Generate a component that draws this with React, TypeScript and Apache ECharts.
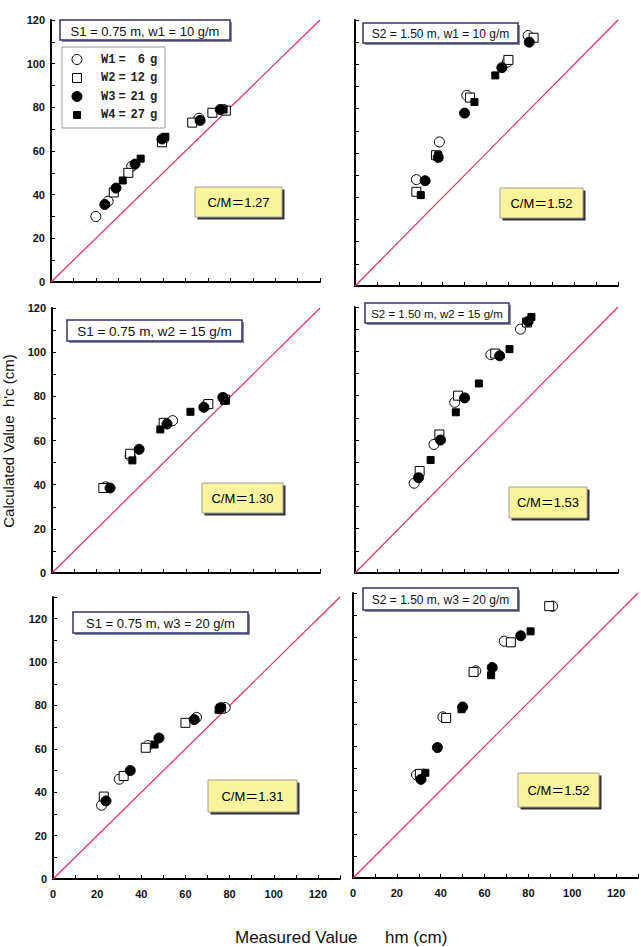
import React, { useEffect, useRef } from "react";
import * as echarts from "echarts";

// ---------- data (measured hm, calculated h'c) ----------
// Panel 1: S1 = 0.75 m, w1 = 10 g/m
const P1_W1 = [[20, 30], [25.5, 37], [36, 53], [50, 65], [66, 75], [77, 79]];
const P1_W2 = [[28, 41], [34.5, 50], [49.5, 64], [63, 73], [72, 77.5], [78, 78.5]];
const P1_W3 = [[24, 35.5], [29, 43], [37.5, 54], [49.5, 65.5], [66.5, 74], [75.5, 79]];
const P1_W4 = [[32, 46.5], [40, 56.5], [51, 66.5], [77, 79]];
// Panel 2: S2 = 1.50 m, w1 = 10 g/m
const P2_W1 = [[28, 48], [38.5, 65], [51, 86], [69.5, 101], [79, 113]];
const P2_W2 = [[28, 42.5], [37, 59], [52.5, 85], [70, 102], [81.5, 112]];
const P2_W3 = [[32, 47.5], [38, 58], [50, 78], [67, 98.5], [79.5, 110]];
const P2_W4 = [[30, 41], [38, 59], [54.5, 83], [64, 95]];
// Panel 3: S1 = 0.75 m, w2 = 15 g/m
const P3_W1 = [[24, 39], [35, 53], [54, 69], [69, 76], [77, 79]];
const P3_W2 = [[23, 38.5], [35, 54], [50, 68], [70, 76.5], [77.5, 78.5]];
const P3_W3 = [[26, 38.5], [39, 56], [51.5, 67.5], [68, 75], [76.5, 79.5]];
const P3_W4 = [[36, 51], [48.5, 65], [62, 73], [77.5, 78]];
// Panel 4: S2 = 1.50 m, w2 = 15 g/m
const P4_W1 = [[27, 40.5], [36, 58], [45.5, 77], [62, 98.5], [75.5, 110]];
const P4_W2 = [[29.5, 46], [38.5, 62.5], [47, 80], [64, 99], [78.5, 113]];
const P4_W3 = [[29, 43], [39, 60], [50, 79], [66, 98], [79, 113.5]];
const P4_W4 = [[34.5, 51], [46, 72.5], [56.5, 85.5], [70.5, 101], [80.5, 115.5]];
// Panel 5: S1 = 0.75 m, w3 = 20 g/m
const P5_W1 = [[22, 34], [30, 46], [43, 61.5], [65, 74.5], [78, 79]];
const P5_W2 = [[23, 38], [32, 47.5], [42, 60.5], [60, 72], [76, 78.5]];
const P5_W3 = [[24, 36], [35, 50], [48, 65], [64, 73.5], [76, 79]];
const P5_W4 = [[46, 62], [75, 78]];
// Panel 6: S2 = 1.50 m, w3 = 20 g/m
const P6_W1 = [[29, 47], [41, 73.5], [56, 94.5], [69, 108], [91, 124]];
const P6_W2 = [[30.5, 47.5], [42.5, 73], [55, 94], [72, 107.5], [89.5, 124]];
const P6_W3 = [[31, 45], [38.5, 59.5], [50, 78], [63.5, 96], [76.5, 110.5]];
const P6_W4 = [[33, 48], [49.5, 77], [63, 92.5], [81, 112.5]];

const SERIES_NAMES = ["W1 = 6 g", "W2 = 12 g", "W3 = 21 g", "W4 = 27 g"];
const LEGEND_LABELS = [["W1", "6"], ["W2", "12"], ["W3", "21"], ["W4", "27"]];
const PANEL_TITLES = [
  "S1 = 0.75 m, w1 = 10 g/m",
  "S2 = 1.50 m, w1 = 10 g/m",
  "S1 = 0.75 m, w2 = 15 g/m",
  "S2 = 1.50 m, w2 = 15 g/m",
  "S1 = 0.75 m, w3 = 20 g/m",
  "S2 = 1.50 m, w3 = 20 g/m",
];
const RATIOS = ["1.27", "1.52", "1.30", "1.53", "1.31", "1.52"];
const AXIS_MAX = [120, 120, 120, 120, 130, 130];

const PANEL_DATA = [
  [P1_W1, P1_W2, P1_W3, P1_W4],
  [P2_W1, P2_W2, P2_W3, P2_W4],
  [P3_W1, P3_W2, P3_W3, P3_W4],
  [P4_W1, P4_W2, P4_W3, P4_W4],
  [P5_W1, P5_W2, P5_W3, P5_W4],
  [P6_W1, P6_W2, P6_W3, P6_W4],
];

// ---------- layout ----------
const GRIDS = [
  { left: 51, top: 20, width: 269, height: 262 },
  { left: 355, top: 20, width: 263, height: 266 },
  { left: 52, top: 308, width: 268, height: 265 },
  { left: 355, top: 307, width: 263, height: 266 },
  { left: 53, top: 597, width: 287, height: 282 },
  { left: 353, top: 593, width: 285, height: 285 },
];
const TITLE_BOX = [
  { x: 60, y: 20, w: 170, h: 20, fs: 13 },
  { x: 363, y: 23, w: 155, h: 20, fs: 12 },
  { x: 67, y: 320, w: 175, h: 21, fs: 13.5 },
  { x: 365, y: 303, w: 144, h: 20, fs: 11.5 },
  { x: 73, y: 612, w: 175, h: 21, fs: 13 },
  { x: 363, y: 588, w: 155, h: 22, fs: 12 },
];
const CM_BOX = [
  { x: 195, y: 187, w: 87, h: 30 },
  { x: 500, y: 188, w: 83, h: 30 },
  { x: 202, y: 483, w: 81, h: 30 },
  { x: 509, y: 487, w: 78, h: 31 },
  { x: 208, y: 780, w: 89, h: 32 },
  { x: 518, y: 773, w: 81, h: 34 },
];

const MARKERS = [
  { symbol: "circle", size: 10, fill: "#ffffff" },
  { symbol: "rect", size: 9, fill: "#ffffff" },
  { symbol: "circle", size: 10, fill: "#000000" },
  { symbol: "rect", size: 7, fill: "#000000" },
];

const SANS = "'Liberation Sans', Arial, 'Noto Sans CJK JP', sans-serif";
const DIAG_COLOR = "#e0305f";

function buildOption() {
  const grid: any[] = [];
  const xAxis: any[] = [];
  const yAxis: any[] = [];
  const series: any[] = [];
  const graphic: any[] = [];

  GRIDS.forEach((g, i) => {
    const max = AXIS_MAX[i];
    const leftCol = i % 2 === 0;
    const bottomRow = i >= 4;
    grid.push({ ...g, containLabel: false });
    const common = {
      type: "value",
      min: 0,
      max,
      interval: 10,
      gridIndex: i,
      splitLine: { show: false },
      axisLine: { show: true, onZero: false, lineStyle: { color: "#000", width: 2 } },
      axisTick: { show: true, inside: true, length: 4, lineStyle: { color: "#000", width: 1 } },
    };
    xAxis.push({
      ...common,
      axisLabel: {
        show: bottomRow,
        margin: 9,
        color: "#111",
        fontSize: 11,
        fontWeight: "bold",
        fontFamily: SANS,
        formatter: (v: number) => (v % 20 === 0 && v <= 120 ? String(v) : ""),
      },
    });
    yAxis.push({
      ...common,
      axisLabel: {
        show: leftCol,
        margin: 6,
        color: "#111",
        fontSize: 11,
        fontWeight: "bold",
        fontFamily: SANS,
        formatter: (v: number) => (v % 20 === 0 && v <= 120 ? String(v) : ""),
      },
    });
    series.push({
      type: "line",
      name: "1:1",
      xAxisIndex: i,
      yAxisIndex: i,
      data: [[0, 0], [max, max]],
      symbol: "none",
      silent: true,
      z: 1,
      lineStyle: { color: DIAG_COLOR, width: 1.2 },
    });
    PANEL_DATA[i].forEach((d, k) => {
      const m = MARKERS[k];
      series.push({
        type: "scatter",
        name: SERIES_NAMES[k],
        xAxisIndex: i,
        yAxisIndex: i,
        data: d,
        symbol: m.symbol,
        symbolSize: m.size,
        z: 2 + k,
        itemStyle: { color: m.fill, borderColor: "#000", borderWidth: 1, opacity: 1 },
      });
    });

    // title box
    const t = TITLE_BOX[i];
    graphic.push({ type: "rect", shape: { x: t.x + 2, y: t.y + 2, width: t.w, height: t.h }, style: { fill: "#8a8a9a" }, z: 100 });
    graphic.push({ type: "rect", shape: { x: t.x, y: t.y, width: t.w, height: t.h }, style: { fill: "#fff", stroke: "#33336b", lineWidth: 1.5 }, z: 101 });
    graphic.push({
      type: "text",
      x: t.x + t.w / 2,
      y: t.y + t.h / 2 + 1,
      z: 102,
      style: { text: PANEL_TITLES[i], fill: "#111", fontSize: t.fs, fontFamily: SANS, align: "center", verticalAlign: "middle", textAlign: "center", textVerticalAlign: "middle" },
    });
    // C/M box
    const c = CM_BOX[i];
    graphic.push({ type: "rect", shape: { x: c.x + 2.5, y: c.y + 2.5, width: c.w, height: c.h }, style: { fill: "#333" }, z: 100 });
    graphic.push({ type: "rect", shape: { x: c.x, y: c.y, width: c.w, height: c.h }, style: { fill: "#faf59c", stroke: "#a0a0a0", lineWidth: 1 }, z: 101 });
    graphic.push({
      type: "text",
      x: c.x + c.w / 2,
      y: c.y + c.h / 2,
      z: 102,
      style: { text: "C/M＝" + RATIOS[i], fill: "#000", fontSize: 13, fontFamily: SANS, align: "center", verticalAlign: "middle", textAlign: "center", textVerticalAlign: "middle" },
    });
  });

  // legend box (panel 1)
  graphic.push({ type: "rect", shape: { x: 62, y: 47, width: 103, height: 81 }, style: { fill: "#fff", stroke: "#999", lineWidth: 1 }, z: 100 });
  const rows = [59.5, 78, 96.5, 115];
  rows.forEach((ry, k) => {
    const m = MARKERS[k];
    if (m.symbol === "circle") {
      graphic.push({ type: "circle", shape: { cx: 77, cy: ry, r: m.size / 2 }, style: { fill: m.fill, stroke: "#000", lineWidth: 1 }, z: 101 });
    } else {
      graphic.push({ type: "rect", shape: { x: 77 - m.size / 2, y: ry - m.size / 2, width: m.size, height: m.size }, style: { fill: m.fill, stroke: "#000", lineWidth: 1 }, z: 101 });
    }
    const lf = { fill: "#222", fontSize: 12, fontWeight: "bold", fontFamily: "'Liberation Mono', 'DejaVu Sans Mono', monospace", verticalAlign: "middle", textVerticalAlign: "middle" };
    graphic.push({ type: "text", x: 101, y: ry, z: 101, style: { ...lf, text: LEGEND_LABELS[k][0], align: "left", textAlign: "left" } });
    graphic.push({ type: "text", x: 122, y: ry, z: 101, style: { ...lf, text: "=", align: "center", textAlign: "center" } });
    graphic.push({ type: "text", x: 145, y: ry, z: 101, style: { ...lf, text: LEGEND_LABELS[k][1], align: "right", textAlign: "right" } });
    graphic.push({ type: "text", x: 150, y: ry, z: 101, style: { ...lf, text: "g", align: "left", textAlign: "left" } });
  });

  // axis titles
  graphic.push({
    type: "text",
    x: 8,
    y: 441,
    rotation: Math.PI / 2,
    z: 101,
    style: { text: "Calculated Value  h'c (cm)", fill: "#111", fontSize: 15, fontFamily: SANS, align: "center", verticalAlign: "middle", textAlign: "center", textVerticalAlign: "middle" },
  });
  graphic.push({
    type: "text",
    x: 235,
    y: 937,
    z: 101,
    style: { text: "Measured Value", fill: "#111", fontSize: 17, fontFamily: SANS, align: "left", verticalAlign: "middle", textAlign: "left", textVerticalAlign: "middle" },
  });
  graphic.push({
    type: "text",
    x: 385,
    y: 937,
    z: 101,
    style: { text: "hm (cm)", fill: "#111", fontSize: 17, fontFamily: SANS, align: "left", verticalAlign: "middle", textAlign: "left", textVerticalAlign: "middle" },
  });

  return {
    animation: false,
    backgroundColor: "#ffffff",
    grid,
    xAxis,
    yAxis,
    series,
    graphic: { elements: graphic },
  };
}

export default function App() {
  const ref = useRef<HTMLDivElement>(null);
  useEffect(() => {
    if (!ref.current) return;
    const chart = echarts.init(ref.current, undefined, { renderer: "svg" });
    chart.setOption(buildOption());
    return () => chart.dispose();
  }, []);
  return <div ref={ref} style={{ position: "absolute", left: 0, top: 0, width: 641, height: 947 }} />;
}
